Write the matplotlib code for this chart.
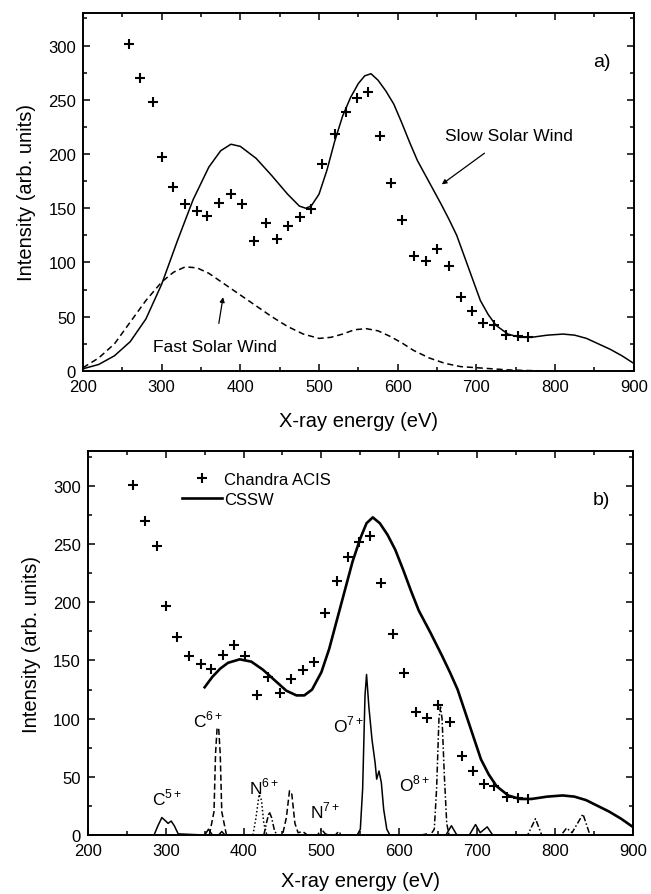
import numpy as np
import matplotlib
matplotlib.use("Agg")
import matplotlib.pyplot as plt
from matplotlib.ticker import MultipleLocator

plt.rcParams['font.family'] = ['Liberation Sans', 'DejaVu Sans']
plt.rcParams['mathtext.fontset'] = 'custom'
plt.rcParams['mathtext.rm'] = 'Liberation Sans'

# Chandra ACIS data points
acis_x = [258, 273, 289, 300, 315, 330, 345, 358, 373, 388, 402, 417, 432, 447, 461, 476,
          490, 504, 520, 534, 548, 562, 577, 592, 606, 621, 636, 650, 665, 680, 695, 709,
          722, 738, 753, 766]
acis_y = [301, 270, 248, 197, 170, 154, 147, 143, 155, 163, 154, 120, 136, 122, 134, 142,
          149, 191, 218, 239, 252, 257, 217, 173, 139, 106, 101, 112, 97, 68, 55, 44,
          42, 33, 32, 31]

# slow solar wind model (panel a)
slow_x = [200, 220, 240, 260, 280, 300, 320, 340, 360, 375, 388, 400, 420, 440, 460, 475,
          483, 490, 500, 510, 520, 530, 540, 550, 558, 566, 575, 585, 595, 605, 615, 625,
          640, 655, 665, 675, 685, 695, 705, 715, 725, 740, 755, 770, 790, 810, 825, 840,
          855, 870, 885, 900]
slow_y = [2, 6, 14, 27, 48, 80, 120, 158, 188, 203, 209, 207, 196, 180, 163, 152,
          150, 152, 163, 185, 212, 235, 252, 265, 272, 274, 268, 258, 246, 229, 211, 194,
          174, 154, 140, 125, 105, 85, 65, 52, 42, 34, 31, 31, 33, 34, 33, 30,
          25, 20, 14, 7]

# fast solar wind model (panel a)
fast_x = [200, 220, 240, 260, 280, 300, 315, 330, 345, 360, 380, 400, 420, 440, 460, 480,
          500, 515, 530, 545, 560, 575, 590, 605, 620, 640, 660, 680, 700, 720, 740, 760, 790]
fast_y = [3, 12, 25, 45, 65, 82, 91, 96, 95, 90, 80, 70, 60, 50, 41, 34,
          30, 31, 34, 38, 39, 37, 32, 26, 19, 12, 7, 4, 3, 2, 1, 0.5, 0]

# CSSW model (panel b)
cssw_x = [350, 360, 370, 380, 395, 410, 425, 440, 455, 468, 478, 488, 500, 510, 520, 530,
          540, 550, 558, 566, 575, 585, 595, 605, 615, 625, 640, 655, 665, 675, 685, 695,
          705, 715, 725, 740, 755, 770, 790, 810, 825, 840, 855, 870, 885, 900]
cssw_y = [127, 136, 143, 148, 151, 149, 142, 133, 124, 120, 120, 125, 140, 160, 185, 210,
          235, 255, 268, 273, 268, 258, 245, 228, 210, 193, 174, 154, 140, 125, 105, 85,
          65, 52, 42, 34, 31, 31, 33, 34, 33, 30, 25, 20, 14, 7]

# individual ion line components (panel b)
solid_x = [200, 285, 290, 295, 300, 303, 307, 311, 316, 350, 355, 360, 368, 372, 376,
           546, 550, 553, 556, 558, 561, 565, 569, 571, 574, 577, 580, 584, 588,
           660, 667, 674, 690, 698, 704, 713, 720, 900]
solid_y = [0, 0, 8, 15, 12, 10, 12, 8, 1, 0, 5, 0, 0, 3, 0,
           0, 5, 40, 120, 138, 110, 82, 62, 48, 55, 45, 22, 5, 0,
           0, 8, 0, 0, 9, 2, 7, 0, 0]
c6_x = [356, 362, 364, 366, 368, 370, 372, 378, 450, 455, 459, 462, 466, 470, 476, 482]
c6_y = [0, 20, 70, 92, 92, 70, 20, 0, 0, 15, 38, 35, 10, 2, 3, 0]
n6_x = [412, 416, 420, 423, 426, 430]
n6_y = [0, 15, 35, 30, 10, 0]
n7_x = [426, 430, 433, 436, 440, 444, 495, 500, 505, 510, 518, 522, 526]
n7_y = [0, 12, 20, 15, 3, 0, 0, 5, 1, 0, 0, 3, 0]
o8_x = [628, 636, 640, 645, 648, 651, 653, 655, 658, 661, 664, 765, 775, 783, 808, 815, 822,
        836, 845, 850]
o8_y = [0, 1, 0, 5, 40, 100, 110, 100, 50, 10, 0, 0, 14, 0, 0, 6, 2, 18, 0, 0]

ion_labels = [r'C$^{5+}$', r'C$^{6+}$', r'N$^{6+}$', r'N$^{7+}$', r'O$^{7+}$', r'O$^{8+}$']
ion_label_x = [302, 355, 426, 505, 535, 620]
ion_label_y = [33, 100, 42, 21, 95, 45]


def style_axes(ax, xpad):
    ax.set_xlim(200, 900)
    ax.set_ylim(0, 330)
    ax.xaxis.set_major_locator(MultipleLocator(100))
    ax.xaxis.set_minor_locator(MultipleLocator(50))
    ax.yaxis.set_major_locator(MultipleLocator(50))
    ax.yaxis.set_minor_locator(MultipleLocator(25))
    ax.tick_params(which='both', direction='in', top=True, right=True, labelsize=12)
    ax.tick_params(which='major', length=5, width=1.1)
    ax.tick_params(which='minor', length=3, width=1.1)
    ax.tick_params(axis='x', pad=6)
    ax.tick_params(axis='y', pad=5)
    for s in ax.spines.values():
        s.set_linewidth(1.4)
    ax.set_xlabel('X-ray energy (eV)', fontsize=14.5, labelpad=xpad)
    ax.set_ylabel('Intensity (arb. units)', fontsize=14.5, labelpad=9)


fig = plt.figure(figsize=(6.51, 8.95), dpi=100)
ax1 = fig.add_axes([0.1275, 0.5844, 0.846, 0.400])
ax2 = fig.add_axes([0.135, 0.0659, 0.837, 0.429])

# panel a
ax1.plot(slow_x, slow_y, color='black', lw=1.1)
ax1.plot(fast_x, fast_y, color='black', lw=1.1, ls=(0, (4, 2.5)))
ax1.plot(acis_x, acis_y, ls='none', marker='+', color='black', ms=7.5, mew=1.5)
ax1.annotate('Slow Solar Wind', xy=(656, 172), xytext=(741, 217), fontsize=12.5,
             ha='center', va='center',
             arrowprops=dict(arrowstyle='-|>', color='black', lw=0.9,
                             shrinkA=9, shrinkB=0, mutation_scale=7))
ax1.annotate('Fast Solar Wind', xy=(378, 68), xytext=(368, 23), fontsize=12.5,
             ha='center', va='center',
             arrowprops=dict(arrowstyle='-|>', color='black', lw=0.9,
                             shrinkA=9, shrinkB=0, mutation_scale=7))
ax1.text(860, 285, 'a)', fontsize=14, ha='center', va='center')
style_axes(ax1, 12)

# panel b
ax2.plot(solid_x, solid_y, color='black', lw=1.1)
ax2.plot(c6_x, c6_y, color='black', lw=1.1, ls=(0, (4, 2)))
ax2.plot(n6_x, n6_y, color='black', lw=1.1, ls=(0, (1, 1.5)))
ax2.plot(n7_x, n7_y, color='black', lw=1.1, ls=(0, (4, 1.5, 1, 1.5)))
ax2.plot(o8_x, o8_y, color='black', lw=1.1, ls=(0, (4, 1.5, 1, 1.5)))
ax2.plot(acis_x, acis_y, ls='none', marker='+', color='black', ms=7.5, mew=1.5,
         label='Chandra ACIS')
ax2.plot(cssw_x, cssw_y, color='black', lw=1.9, label='CSSW')
for lab, lx, ly in zip(ion_labels, ion_label_x, ion_label_y):
    ax2.text(lx, ly, lab, fontsize=12.5, ha='center', va='center')
ax2.text(860, 288, 'b)', fontsize=14, ha='center', va='center')
ax2.legend(loc='upper left', bbox_to_anchor=(0.172, 0.945), frameon=False, fontsize=12,
           handlelength=2.4, handletextpad=0.15, borderaxespad=0, borderpad=0,
           labelspacing=0.3)
style_axes(ax2, 9)

fig.savefig('out.png', dpi=100)
